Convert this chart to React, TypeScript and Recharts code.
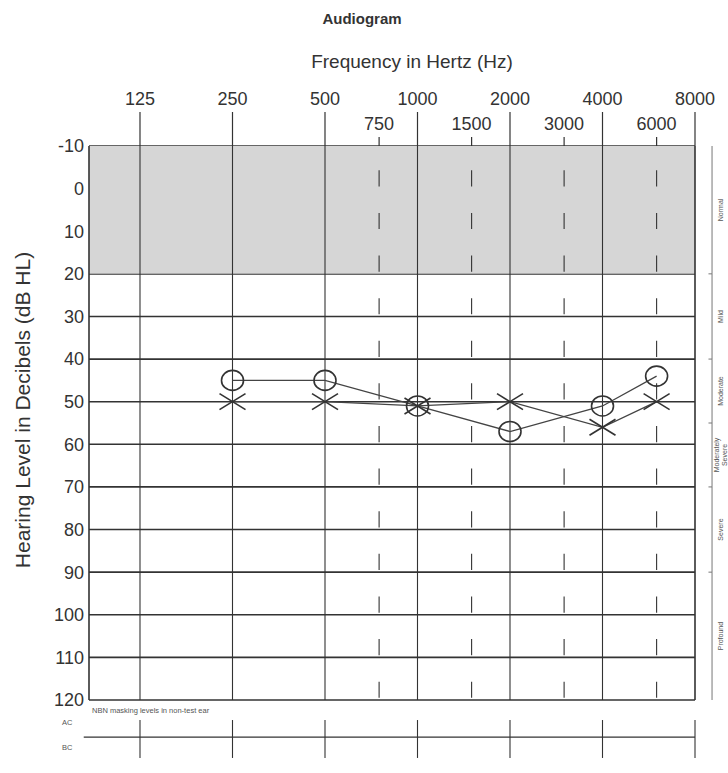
import React from "react";
import {
  ComposedChart,
  Line,
  XAxis,
  YAxis,
  CartesianGrid,
  ReferenceLine,
  ReferenceArea,
} from "recharts";

// frequencies (Hz)
const octaveFreqs = [125, 250, 500, 1000, 2000, 4000, 8000];
const halfOctaveFreqs = [750, 1500, 3000, 6000];
const dbTicks = [-10, 0, 10, 20, 30, 40, 50, 60, 70, 80, 90, 100, 110, 120];

// thresholds (dB HL)
const testFreqs = [250, 500, 1000, 2000, 4000, 6000];
const rightEar = [45, 45, 51, 57, 51, 44]; // O
const leftEar = [50, 50, 51, 50, 56, 50]; // X

const severityNames = ["Normal", "Mild", "Moderate", "Moderately Severe", "Severe", "Profound"];
const severityEdges = [-10, 20, 40, 55, 70, 90, 120];

const FONT = '"Liberation Sans", Arial, sans-serif';
const INK = "#333";
const PLOT_TOP = 146;
const X_MIN = 85.3;
const BRACKET_X = 9090;
const ROW_PX = 554 / 13;

const data = testFreqs.map((f, i) => ({ freq: f, right: rightEar[i], left: leftEar[i] }));
const allFreqTicks = [...octaveFreqs, ...halfOctaveFreqs].sort((a, b) => a - b);

const FreqTick = (props: any) => {
  const { x, payload } = props;
  const f = payload.value;
  const half = halfOctaveFreqs.includes(f);
  return (
    <g>
      <text
        x={x}
        y={half ? 130 : 105}
        textAnchor="middle"
        fontSize={18}
        fontFamily={FONT}
        fill={INK}
      >
        {f}
      </text>
      <line x1={x} x2={x} y1={half ? 137 : 112} y2={PLOT_TOP} stroke={INK} strokeWidth={1.2} />
    </g>
  );
};

const CircleDot = (props: any) => {
  const { cx, cy, index } = props;
  if (cx == null || cy == null) return <g key={`o-${index}`} />;
  return (
    <ellipse
      key={`o-${index}`}
      cx={cx}
      cy={cy}
      rx={11}
      ry={10}
      fill="none"
      stroke={INK}
      strokeWidth={1.6}
    />
  );
};

const CrossDot = (props: any) => {
  const { cx, cy, index } = props;
  if (cx == null || cy == null) return <g key={`x-${index}`} />;
  return (
    <g key={`x-${index}`} stroke={INK} strokeWidth={1.6}>
      <line x1={cx - 13} y1={cy - 8} x2={cx + 13} y2={cy + 8} />
      <line x1={cx - 13} y1={cy + 8} x2={cx + 13} y2={cy - 8} />
    </g>
  );
};

const SevLabel = ({ viewBox, text }: any) => {
  if (!viewBox) return null;
  const cy = viewBox.y + viewBox.height / 2;
  const words = text.split(" ");
  const lines = words.length > 1 ? [words[0], words.slice(1).join(" ")] : [text];
  const x0 = viewBox.x + (lines.length > 1 ? 7 : 11);
  return (
    <text
      transform={`translate(${x0},${cy}) rotate(-90)`}
      textAnchor="middle"
      fontSize={7}
      fontFamily={FONT}
      fill="#555"
    >
      {lines.map((l, i) => (
        <tspan key={l} x={0} dy={i === 0 ? 0 : 7.5}>
          {l}
        </tspan>
      ))}
    </text>
  );
};

export default function App() {
  const dash = `0 ${ROW_PX * 0.57} ${ROW_PX * 0.38} ${ROW_PX * 0.05}`;
  return (
    <div style={{ position: "absolute", left: 0, top: 0, width: 728, height: 773, background: "#fff" }}>
      <ComposedChart
        width={728}
        height={773}
        data={data}
        margin={{ top: 86, right: 33, bottom: 73, left: 0 }}
      >
        <ReferenceArea y1={-10} y2={20} fill="#d6d6d6" fillOpacity={1} stroke="none" />
        <CartesianGrid vertical={false} stroke={INK} strokeWidth={1.6} />
        <XAxis
          dataKey="freq"
          type="number"
          scale="log"
          domain={[X_MIN, 8000]}
          allowDataOverflow
          orientation="top"
          height={60}
          ticks={allFreqTicks}
          interval={0}
          tick={<FreqTick />}
          tickLine={false}
          axisLine={false}
        />
        <YAxis
          type="number"
          domain={[-10, 120]}
          reversed
          ticks={dbTicks}
          interval={0}
          width={89}
          tickLine={false}
          axisLine={false}
          tickSize={4}
          tickMargin={1}
          tick={{ fontSize: 18, fill: INK, fontFamily: FONT }}
        />
        {/* plot border left */}
        <ReferenceLine
          segment={[{ x: X_MIN, y: -10 }, { x: X_MIN, y: 120 }]}
          stroke={INK}
          strokeWidth={1.6}
        />
        {octaveFreqs.map((f) => (
          <ReferenceLine
            key={`oct-${f}`}
            segment={[{ x: f, y: -10 }, { x: f, y: 120 }]}
            stroke={INK}
            strokeWidth={f === 8000 ? 1.6 : 1.1}
          />
        ))}
        {halfOctaveFreqs.map((f) => (
          <ReferenceLine
            key={`half-${f}`}
            segment={[{ x: f, y: -10 }, { x: f, y: 120 }]}
            stroke={INK}
            strokeWidth={1.1}
            strokeDasharray={dash}
          />
        ))}
        {/* severity bracket */}
        {severityNames.map((name, i) => (
          <ReferenceLine
            key={`sev-${name}`}
            segment={[
              { x: BRACKET_X, y: severityEdges[i] },
              { x: BRACKET_X, y: severityEdges[i + 1] },
            ]}
            ifOverflow="visible"
            stroke="#777"
            strokeWidth={1}
            label={(p: any) => <SevLabel {...p} text={name} />}
          />
        ))}
        {severityEdges.slice(1, -1).map((e) => (
          <ReferenceLine
            key={`sevtick-${e}`}
            segment={[{ x: 8850, y: e }, { x: BRACKET_X, y: e }]}
            ifOverflow="visible"
            stroke="#777"
            strokeWidth={1}
          />
        ))}
        {/* masking level row */}
        <ReferenceLine
          segment={[{ x: 82, y: 128.7 }, { x: 8000, y: 128.7 }]}
          ifOverflow="visible"
          stroke={INK}
          strokeWidth={1.4}
        />
        {octaveFreqs.map((f) => (
          <ReferenceLine
            key={`mask-${f}`}
            segment={[{ x: f, y: 124.7 }, { x: f, y: 133.6 }]}
            ifOverflow="visible"
            stroke={INK}
            strokeWidth={1.1}
          />
        ))}
        <Line
          dataKey="right"
          stroke="#444"
          strokeWidth={1.3}
          dot={(p: any) => <CircleDot {...p} key={`o-${p.index}`} />}
          activeDot={false}
          isAnimationActive={false}
        />
        <Line
          dataKey="left"
          stroke="#444"
          strokeWidth={1.3}
          dot={(p: any) => <CrossDot {...p} key={`x-${p.index}`} />}
          activeDot={false}
          isAnimationActive={false}
        />
      </ComposedChart>
      <svg
        width={728}
        height={773}
        style={{ position: "absolute", left: 0, top: 0, pointerEvents: "none" }}
      >
        <text x={362} y={24} textAnchor="middle" fontSize={15} fontWeight="bold" fontFamily={FONT} fill={INK}>
          Audiogram
        </text>
        <text x={412} y={68} textAnchor="middle" fontSize={19} fontFamily={FONT} fill={INK}>
          Frequency in Hertz (Hz)
        </text>
        <text
          transform="translate(30,410) rotate(-90)"
          textAnchor="middle"
          fontSize={21}
          fontFamily={FONT}
          fill={INK}
        >
          Hearing Level in Decibels (dB HL)
        </text>
        <text x={92} y={713} fontSize={7.5} fontFamily={FONT} fill="#555">
          NBN masking levels in non-test ear
        </text>
        <text x={62} y={725} fontSize={7.5} fontFamily={FONT} fill="#555">
          AC
        </text>
        <text x={62} y={750} fontSize={7.5} fontFamily={FONT} fill="#555">
          BC
        </text>
      </svg>
    </div>
  );
}
